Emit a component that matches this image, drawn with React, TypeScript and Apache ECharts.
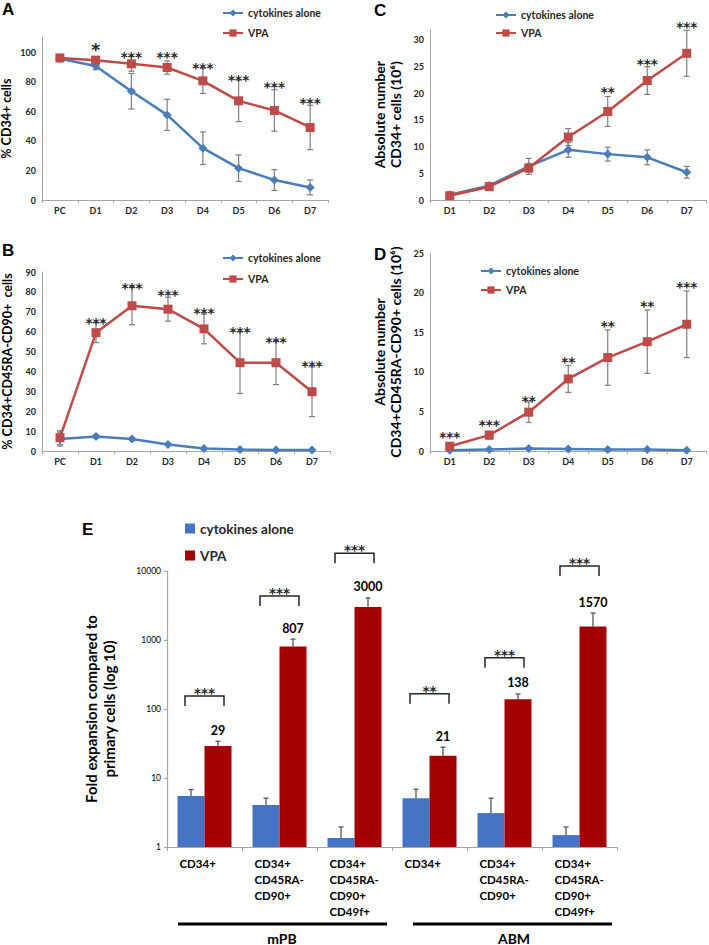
import { useEffect, useRef } from "react";
import * as echarts from "echarts";

// ---------- data ----------
const daysPC = ["PC", "D1", "D2", "D3", "D4", "D5", "D6", "D7"];
const days = ["D1", "D2", "D3", "D4", "D5", "D6", "D7"];

// Panel A: % CD34+ cells
const aCyto = [95.5, 90.5, 73.5, 57.5, 35, 21.5, 13.5, 8.5];
const aCytoErr = [2, 2.5, 12, 10.5, 11, 9, 7, 5];
const aVpa = [96, 94.5, 92, 89.5, 80.5, 67, 60.5, 49];
const aVpaErr = [2, 2, 5, 4.5, 8.5, 14, 14, 15];
const aSig = ["", "*", "***", "***", "***", "***", "***", "***"];
const aSigAt = [0, 104.5, 99.5, 99.5, 92, 84, 79, 68];

// Panel B: % CD34+CD45RA-CD90+ cells
const bCyto = [6, 7.3, 6, 3.3, 1.2, 0.8, 0.5, 0.5];
const bCytoErr = [3.5, 0.8, 0.6, 0.5, 0.3, 0.3, 0.2, 0.2];
const bVpa = [6.7, 59.5, 73, 71.3, 61.4, 44.4, 44.4, 29.8];
const bVpaErr = [3.5, 5, 9.5, 6, 7.5, 15.5, 11, 12.5];
const bSig = ["", "***", "***", "***", "***", "***", "***", "***"];
const bSigAt = [0, 66.4, 84, 80.5, 71.4, 61.8, 56.8, 44.7];

// Panel C: absolute number CD34+ cells (10^6)
const cCyto = [1.0, 2.7, 6.3, 9.4, 8.6, 8.0, 5.2];
const cCytoErr = [0.3, 0.4, 1.5, 1.4, 1.3, 1.4, 1.1];
const cVpa = [0.8, 2.5, 6.0, 11.8, 16.6, 22.4, 27.5];
const cVpaErr = [0.3, 0.4, 0.8, 1.6, 2.8, 2.6, 4.3];
const cSig = ["", "", "", "", "**", "***", "***"];
const cSigAt = [0, 0, 0, 0, 21, 26.2, 33.2];

// Panel D: absolute number CD34+CD45RA-CD90+ cells (10^6)
const dCyto = [0.1, 0.2, 0.3, 0.25, 0.2, 0.2, 0.1];
const dCytoErr = [0.1, 0.1, 0.1, 0.1, 0.1, 0.1, 0.1];
const dVpa = [0.6, 2.0, 4.9, 9.1, 11.8, 13.8, 16.0];
const dVpaErr = [0.3, 0.5, 1.3, 1.7, 3.5, 4.0, 4.2];
const dSig = ["***", "***", "**", "**", "**", "**", "***"];
const dSigAt = [2.3, 3.8, 6.8, 11.7, 16.3, 18.8, 21.2];

// Panel E: fold expansion (log10)
const eCats = [
  "CD34+",
  "CD34+\nCD45RA-\nCD90+",
  "CD34+\nCD45RA-\nCD90+\nCD49f+",
  "CD34+",
  "CD34+\nCD45RA-\nCD90+",
  "CD34+\nCD45RA-\nCD90+\nCD49f+",
];
const eCyto = [5.5, 4.05, 1.35, 5.1, 3.1, 1.49];
const eCytoErr = [1.3, 1.05, 0.6, 1.8, 2.0, 0.46];
const eVpa = [29, 807, 3000, 21, 138, 1570];
const eVpaErr = [5, 223, 1070, 7, 27, 890];
const eSig = ["***", "***", "***", "**", "***", "***"];
const eSigAt = [154, 4350, 18100, 166, 553, 11800];
const eGroups = ["mPB", "ABM"];

// ---------- styling ----------
const FONT = "Lato, 'Liberation Sans', sans-serif";
const STAR_FONT = "'DejaVu Sans', sans-serif";
const BLUE = "#4A7EBB";
const RED = "#BE4B48";
const BAR_BLUE = "#4674C5";
const BAR_RED = "#A30000";
const ERR = "#7F7F7F";
const AXIS = "#A6A6A6";
const TXT = "#262626";

const errRender =
  (color: string, cap: number, both: boolean, dx = 0, lw = 1.2) =>
  (_p: any, api: any) => {
    const x = api.value(0);
    const lo = api.coord([x, api.value(1)]);
    const hi = api.coord([x, api.value(2)]);
    const cx = lo[0] + dx;
    const style = { stroke: color, lineWidth: lw };
    const children: any[] = [
      { type: "line", shape: { x1: cx, y1: lo[1], x2: cx, y2: hi[1] }, style },
      { type: "line", shape: { x1: cx - cap, y1: hi[1], x2: cx + cap, y2: hi[1] }, style },
    ];
    if (both)
      children.push({ type: "line", shape: { x1: cx - cap, y1: lo[1], x2: cx + cap, y2: lo[1] }, style });
    return { type: "group", children };
  };

function errSeries(ax: number, vals: number[], errs: number[], color: string) {
  return {
    type: "custom",
    xAxisIndex: ax,
    yAxisIndex: ax,
    z: 2,
    silent: true,
    clip: false,
    renderItem: errRender(color, 3, true),
    data: vals.map((v, i) => [i, v - errs[i], v + errs[i]]),
  };
}

function starSeries(ax: number, labels: string[], at: number[]) {
  return {
    type: "custom",
    xAxisIndex: ax,
    yAxisIndex: ax,
    z: 5,
    silent: true,
    clip: false,
    renderItem: (p: any, api: any) => {
      const lab = labels[p.dataIndex];
      if (!lab) return null;
      const c = api.coord([api.value(0), api.value(1)]);
      const big = lab === "*";
      return {
        type: "text",
        style: {
          text: lab,
          x: c[0],
          y: c[1] + (big ? 5 : 4),
          align: "center",
          verticalAlign: "middle",
          fill: TXT,
          font: `bold ${big ? 17 : 13.5}px ${STAR_FONT}`,
        },
      };
    },
    data: at.map((v, i) => [i, v]),
  };
}

function lineSeries(ax: number, name: string, data: number[], color: string, symbol: string, size: number) {
  return {
    type: "line",
    name,
    xAxisIndex: ax,
    yAxisIndex: ax,
    z: 3,
    data,
    symbol,
    symbolSize: size,
    lineStyle: { color, width: 2.5 },
    itemStyle: { color },
  };
}

function catAxis(grid: number, cats: string[]) {
  return {
    type: "category",
    gridIndex: grid,
    data: cats,
    boundaryGap: true,
    axisLine: { lineStyle: { color: AXIS, width: 1 } },
    axisTick: { show: true, length: 3, lineStyle: { color: AXIS } },
    axisLabel: { color: TXT, fontFamily: FONT, fontWeight: "bold", fontSize: 9, margin: 6 },
  };
}

function valAxis(grid: number, max: number, interval: number, name: string, gap: number, nameSize: number) {
  return {
    type: "value",
    gridIndex: grid,
    min: 0,
    max,
    interval,
    splitLine: { show: false },
    axisLine: { show: true, lineStyle: { color: AXIS, width: 1 } },
    axisTick: { show: false },
    axisLabel: {
      color: TXT,
      fontFamily: FONT,
      fontWeight: "bold",
      fontSize: 9,
      margin: 6,
      formatter: (v: number) => (v % interval === 0 ? String(v) : ""),
    },
    name,
    nameLocation: "middle",
    nameRotate: 90,
    nameGap: gap,
    nameTextStyle: { color: "#000", fontFamily: FONT, fontWeight: "bold", fontSize: nameSize, lineHeight: nameSize + 2 },
  };
}

function lineLegend(left: number, top: number, gap: number) {
  return {
    data: ["cytokines alone", "VPA"],
    orient: "vertical",
    left,
    top,
    itemWidth: 20,
    itemHeight: 9,
    itemGap: gap,
    textStyle: { color: TXT, fontFamily: FONT, fontWeight: "bold", fontSize: 10.5, lineHeight: 14 },
  };
}

function letter(t: string, x: number, y: number) {
  return {
    type: "text",
    left: x,
    top: y,
    style: { text: t, fill: "#000", font: `bold 17px 'Liberation Sans', Arial, sans-serif` },
  };
}

export default function App() {
  const ref = useRef<HTMLDivElement>(null);
  useEffect(() => {
    if (!ref.current) return;
    const chart = echarts.init(ref.current, undefined, { renderer: "svg" });
    const E = 4;
    const option: any = {
      animation: false,
      backgroundColor: "#fff",
      grid: [
        { left: 42, top: 37.2, width: 286, height: 162.8, outerBoundsMode: "none" },
        { left: 42, top: 272, width: 288, height: 179, outerBoundsMode: "none" },
        { left: 430, top: 29.3, width: 276.5, height: 170.7, outerBoundsMode: "none" },
        { left: 430, top: 253, width: 276.5, height: 198, outerBoundsMode: "none" },
        { left: 167, top: 571, width: 450, height: 276, outerBoundsMode: "none" },
      ],
      xAxis: [
        catAxis(0, daysPC),
        catAxis(1, daysPC),
        catAxis(2, days),
        catAxis(3, days),
        {
          type: "category",
          gridIndex: E,
          data: eCats,
          axisLine: { lineStyle: { color: AXIS, width: 1.2 } },
          axisTick: { show: true, length: 4, lineStyle: { color: AXIS } },
          axisLabel: {
            interval: 0,
            margin: 8,
            formatter: (v: string) =>
              v
                .split("\n")
                .map((s) => `{a|${s}}`)
                .join("\n"),
            rich: {
              a: {
                width: 50,
                align: "left",
                fontFamily: FONT,
                fontWeight: "bold",
                fontSize: 11.5,
                lineHeight: 16,
                color: "#000",
              },
            },
          },
        },
      ],
      yAxis: [
        valAxis(0, 110, 20, "% CD34+ cells", 28, 12.5),
        valAxis(1, 90, 10, "% CD34+CD45RA-CD90+  cells", 27, 12.5),
        valAxis(2, 32, 5, "Absolute number\nCD34+ cells (10⁶)", 27, 14),
        valAxis(3, 25, 5, "Absolute number\nCD34+CD45RA-CD90+ cells (10⁶)", 27, 14),
        {
          type: "log",
          logBase: 10,
          gridIndex: E,
          min: 1,
          max: 10000,
          splitLine: { show: false },
          axisLine: { show: true, lineStyle: { color: AXIS, width: 1.2 } },
          axisTick: { show: true, length: 3, lineStyle: { color: AXIS } },
          axisLabel: {
            color: "#000",
            fontFamily: FONT,
            fontSize: 8.5,
            margin: 6,
            formatter: (v: number) => String(Math.round(v)),
          },
          name: "Fold expansion compared to\nprimary cells (log 10)",
          nameLocation: "middle",
          nameRotate: 90,
          nameGap: 49,
          nameTextStyle: { color: "#000", fontFamily: FONT, fontWeight: "bold", fontSize: 15, lineHeight: 18 },
        },
      ],
      legend: [
        lineLegend(217, 1, 6),
        lineLegend(217, 246, 7),
        lineLegend(490, 3, 4),
        lineLegend(475, 259, 5),
        {
          data: ["cytokines alone ", "VPA "],
          orient: "vertical",
          left: 180,
          top: 515,
          icon: "rect",
          itemWidth: 10,
          itemHeight: 10,
          itemGap: 10,
          formatter: (n: string) => n.trim(),
          textStyle: { color: TXT, fontFamily: FONT, fontWeight: "bold", fontSize: 13.5, lineHeight: 17 },
        },
      ],
      graphic: [
        letter("A", 2, 1),
        letter("B", 2, 242),
        letter("C", 374, 2),
        letter("D", 374, 246),
        letter("E", 82, 521),
        { type: "line", shape: { x1: 178, y1: 924, x2: 387, y2: 924 }, style: { stroke: "#000", lineWidth: 3 } },
        { type: "line", shape: { x1: 413, y1: 924, x2: 612, y2: 924 }, style: { stroke: "#000", lineWidth: 3 } },
        {
          type: "text",
          x: 282,
          y: 938,
          style: { text: eGroups[0], align: "center", verticalAlign: "middle", fill: "#000", font: `bold 14px ${FONT}` },
        },
        {
          type: "text",
          x: 514,
          y: 938,
          style: { text: eGroups[1], align: "center", verticalAlign: "middle", fill: "#000", font: `bold 14px ${FONT}` },
        },
      ],
      series: [
        // A
        errSeries(0, aCyto, aCytoErr, ERR),
        errSeries(0, aVpa, aVpaErr, ERR),
        lineSeries(0, "cytokines alone", aCyto, BLUE, "diamond", 9),
        lineSeries(0, "VPA", aVpa, RED, "rect", 9),
        starSeries(0, aSig, aSigAt),
        // B
        errSeries(1, bCyto, bCytoErr, ERR),
        errSeries(1, bVpa, bVpaErr, ERR),
        lineSeries(1, "cytokines alone", bCyto, BLUE, "diamond", 9),
        lineSeries(1, "VPA", bVpa, RED, "rect", 9),
        starSeries(1, bSig, bSigAt),
        // C
        errSeries(2, cCyto, cCytoErr, ERR),
        errSeries(2, cVpa, cVpaErr, ERR),
        lineSeries(2, "cytokines alone", cCyto, BLUE, "diamond", 9),
        lineSeries(2, "VPA", cVpa, RED, "rect", 9),
        starSeries(2, cSig, cSigAt),
        // D
        errSeries(3, dCyto, dCytoErr, ERR),
        errSeries(3, dVpa, dVpaErr, ERR),
        lineSeries(3, "cytokines alone", dCyto, BLUE, "diamond", 9),
        lineSeries(3, "VPA", dVpa, RED, "rect", 9),
        starSeries(3, dSig, dSigAt),
        // E
        {
          type: "bar",
          name: "cytokines alone ",
          xAxisIndex: E,
          yAxisIndex: E,
          data: eCyto,
          barWidth: 27,
          barGap: "0%",
          itemStyle: { color: BAR_BLUE },
        },
        {
          type: "bar",
          name: "VPA ",
          xAxisIndex: E,
          yAxisIndex: E,
          data: eVpa,
          barWidth: 27,
          barGap: "0%",
          itemStyle: { color: BAR_RED },
        },
        {
          type: "custom",
          xAxisIndex: E,
          yAxisIndex: E,
          z: 4,
          silent: true,
          clip: false,
          renderItem: errRender("#555", 2.5, false, -13.5, 1.3),
          data: eCyto.map((v, i) => [i, v, v + eCytoErr[i]]),
        },
        {
          type: "custom",
          xAxisIndex: E,
          yAxisIndex: E,
          z: 4,
          silent: true,
          clip: false,
          renderItem: errRender("#555", 2.5, false, 13.5, 1.3),
          data: eVpa.map((v, i) => [i, v, v + eVpaErr[i]]),
        },
        {
          type: "custom",
          xAxisIndex: E,
          yAxisIndex: E,
          z: 5,
          silent: true,
          clip: false,
          renderItem: (p: any, api: any) => {
            const c = api.coord([api.value(0), api.value(1)]);
            return {
              type: "text",
              style: {
                text: String(eVpa[p.dataIndex]),
                x: c[0] + 13.5,
                y: c[1] - 11,
                align: "center",
                verticalAlign: "middle",
                fill: "#000",
                font: `bold 12.5px ${FONT}`,
              },
            };
          },
          data: eVpa.map((v, i) => [i, v + eVpaErr[i]]),
        },
        {
          type: "custom",
          xAxisIndex: E,
          yAxisIndex: E,
          z: 5,
          silent: true,
          clip: false,
          renderItem: (p: any, api: any) => {
            const c = api.coord([api.value(0), api.value(1)]);
            const h = 19.5;
            return {
              type: "group",
              children: [
                {
                  type: "polyline",
                  shape: {
                    points: [
                      [c[0] - h, c[1] + 10],
                      [c[0] - h, c[1]],
                      [c[0] + h, c[1]],
                      [c[0] + h, c[1] + 10],
                    ],
                  },
                  style: { stroke: TXT, lineWidth: 1.5, fill: "none" },
                },
                {
                  type: "text",
                  style: {
                    text: eSig[p.dataIndex],
                    x: c[0],
                    y: c[1] - 3,
                    align: "center",
                    verticalAlign: "middle",
                    fill: TXT,
                    font: `bold 13.5px ${STAR_FONT}`,
                  },
                },
              ],
            };
          },
          data: eSigAt.map((v, i) => [i, v]),
        },
      ],
    };
    chart.setOption(option);
    return () => chart.dispose();
  }, []);
  return (
    <div
      ref={ref}
      style={{ position: "absolute", left: 0, top: 0, width: 709, height: 945, background: "#fff" }}
    />
  );
}
